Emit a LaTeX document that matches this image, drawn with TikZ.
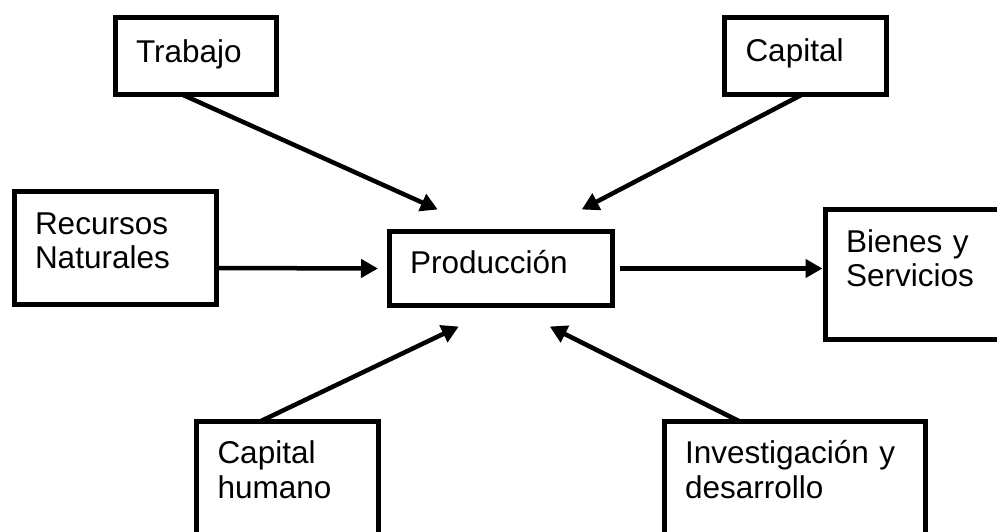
\documentclass[tikz,border=0pt]{standalone}
\usepackage{fontspec}
\setmainfont{Liberation Sans}
\usetikzlibrary{arrows.meta}

\begin{document}
\begin{tikzpicture}[
    x=1pt, y=-1pt,
    caja/.style = {
      draw, line width=5pt, outer sep=0pt,
      anchor=north west, align=left,
      inner xsep=21pt, inner ysep=0pt,
      text height=42pt,
      font=\fontsize{31.5}{35}\selectfont
    },
    flecha/.style = {line width=4.5pt, -{Triangle[length=17pt, width=18pt]}}
  ]
  \useasboundingbox (0,0) rectangle (997,532);
  \clip (0,0) rectangle (997,532);

  % factores
  \node (trabajo)  [caja, text width=119pt,   text height=45pt, text depth=31.5pt] at (115,18) {Trabajo};
  \node (capital)  [caja, text width=119.5pt, text height=44pt, text depth=32.5pt] at (724.5,18) {Capital};
  \node (recursos) [caja, text width=160pt,   text depth=70pt]   at (14,192)    {Recursos\\ Naturales};
  \node (capitalh) [caja, text width=140pt,   text depth=108pt]  at (196.5,421.5) {Capital\\ humano};
  \node (investig) [caja, text width=219.5pt, text depth=108pt]  at (664,421.5)   {Investigación y\\ desarrollo};

  % centro y resultado
  \node (produccion) [caja, text width=181.5pt, text depth=32pt]   at (389,231.5) {Producción};
  \node (bienes)     [caja, text width=153pt,   text depth=87.5pt] at (825,210)   {Bienes y\\ Servicios};

  % puntas de flecha
  \coordinate (pTrabajo)  at ([xshift=-63pt, yshift=22pt]produccion.north);
  \coordinate (pCapital)  at ([xshift=81pt,  yshift=22pt]produccion.north);
  \coordinate (pCapitalh) at ([xshift=-42pt, yshift=-21pt]produccion.south);
  \coordinate (pInvestig) at ([xshift=49pt,  yshift=-21pt]produccion.south);
  \coordinate (pRecursos) at ([xshift=-11pt]produccion.west);

  \draw [flecha] ([xshift=-13.5pt]trabajo.south)  -- (pTrabajo);
  \draw [flecha] ([xshift=-3pt]capital.south)     -- (pCapital);
  \draw [flecha] ([xshift=-27.5pt]capitalh.north) -- (pCapitalh);
  \draw [flecha] ([xshift=-55pt]investig.north)   -- (pInvestig);
  \draw [flecha] ([yshift=-20pt]recursos.east)    -- (pRecursos);
  \draw [flecha, shorten >=2.5pt] ([xshift=7pt]produccion.east) -- (bienes.west |- produccion.east);
\end{tikzpicture}
\end{document}
